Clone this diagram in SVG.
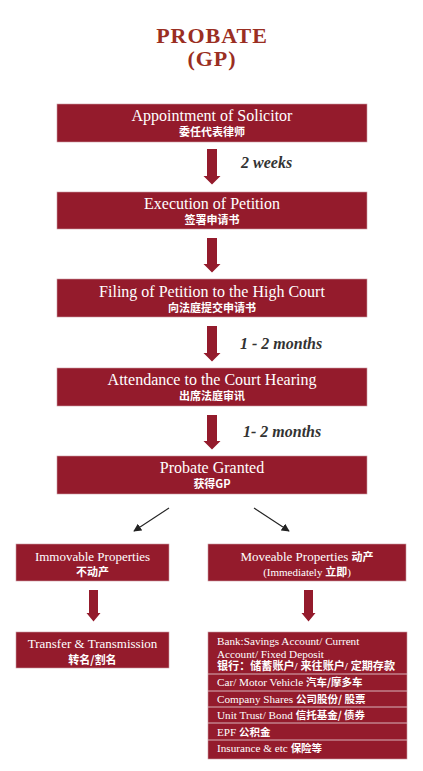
<svg xmlns="http://www.w3.org/2000/svg" width="423" height="771" viewBox="0 0 423 771">
<defs>
<style>
.box{fill:#941b2c;stroke:#c99aa2;stroke-width:0.6}
.arr{fill:#941b2c}
.t{font-family:"Liberation Serif","Noto Sans CJK SC",serif;fill:#ffffff;text-anchor:middle}
.m{font-size:16px}
.cn{font-family:"Noto Sans CJK SC",sans-serif;font-weight:bold;font-size:11px;fill:#ffffff;text-anchor:middle}
.s{font-size:13px}
.l{font-family:"Liberation Serif","Noto Sans CJK SC",serif;fill:#ffffff;font-size:11.2px}
.dur{font-family:"Liberation Serif",serif;font-weight:bold;font-style:italic;font-size:16px;fill:#333333}
.title{font-family:"Liberation Serif",serif;font-weight:bold;font-size:22px;letter-spacing:1px;fill:#9a2e22;text-anchor:middle}
.sep{stroke:#d9b3b9;stroke-width:1}
.thin{stroke:#222222;stroke-width:1.1;fill:none;marker-end:url(#ah)}
</style>
<marker id="ah" viewBox="0 0 10 10" refX="9" refY="5" markerWidth="8" markerHeight="8" orient="auto" markerUnits="userSpaceOnUse">
<path d="M0,0 L10,5 L0,10 z" fill="#222222"/>
</marker>
</defs>
<rect width="423" height="771" fill="#ffffff"/>
<g id="title">
<text class="title" x="212" y="43">PROBATE</text>
<text class="title" x="212" y="66">(GP)</text>
</g>
<g id="n1">
<rect class="box" x="57" y="104" width="310" height="38"/>
<text class="t m" x="212" y="120.5">Appointment of Solicitor</text>
<text class="cn" x="212" y="135.5">委任代表律师</text>
</g>
<g id="n2">
<rect class="box" x="57" y="192" width="310" height="37"/>
<text class="t m" x="212" y="208.5">Execution of Petition</text>
<text class="cn" x="212" y="223.5">签署申请书</text>
</g>
<g id="n3">
<rect class="box" x="57" y="279" width="310" height="38"/>
<text class="t m" x="212" y="296.5">Filing of Petition to the High Court</text>
<text class="cn" x="212" y="311.5">向法庭提交申请书</text>
</g>
<g id="n4">
<rect class="box" x="57" y="368" width="310" height="38"/>
<text class="t m" x="212" y="384.5">Attendance to the Court Hearing</text>
<text class="cn" x="212" y="399.5">出席法庭审讯</text>
</g>
<g id="n5">
<rect class="box" x="57" y="456" width="310" height="38"/>
<text class="t m" x="212" y="473">Probate Granted</text>
<text class="cn" x="212" y="488">获得GP</text>
</g>
<g id="n6">
<rect class="box" x="16" y="544" width="153" height="37"/>
<text class="t s" x="92.5" y="560.5">Immovable Properties</text>
<text class="cn" x="92.5" y="576">不动产</text>
</g>
<g id="n7">
<rect class="box" x="208" y="544" width="198" height="37"/>
<text class="t s" x="307" y="560.5">Moveable Properties <tspan font-family="Noto Sans CJK SC" font-weight="bold" font-size="11">动产</tspan></text>
<text class="t" x="307" y="576" font-size="11">(Immediately <tspan font-family="Noto Sans CJK SC" font-weight="bold">立即</tspan>)</text>
</g>
<g id="n8">
<rect class="box" x="16" y="632" width="153" height="36"/>
<text class="t s" x="92.5" y="648">Transfer &amp; Transmission</text>
<text class="cn" x="92.5" y="663.5">转名/割名</text>
</g>
<g id="n9">
<rect class="box" x="208" y="632" width="199" height="127"/>
<line class="sep" x1="208" y1="674" x2="407" y2="674"/>
<line class="sep" x1="208" y1="691" x2="407" y2="691"/>
<line class="sep" x1="208" y1="707" x2="407" y2="707"/>
<line class="sep" x1="208" y1="723" x2="407" y2="723"/>
<line class="sep" x1="208" y1="740" x2="407" y2="740"/>
<text class="l" x="217" y="645">Bank:Savings Account/ Current</text>
<text class="l" x="217" y="657.5">Account/ Fixed Deposit</text>
<text class="l" x="217" y="670" font-family="Noto Sans CJK SC" font-weight="bold" font-size="10" textLength="178" lengthAdjust="spacingAndGlyphs">银行：储蓄账户/ 来往账户/ 定期存款</text>
<text class="l" x="217" y="686">Car/ Motor Vehicle <tspan font-family="Noto Sans CJK SC" font-weight="bold" font-size="10.5">汽车/摩多车</tspan></text>
<text class="l" x="217" y="703">Company Shares <tspan font-family="Noto Sans CJK SC" font-weight="bold" font-size="10.5">公司股份/ 股票</tspan></text>
<text class="l" x="217" y="719">Unit Trust/ Bond <tspan font-family="Noto Sans CJK SC" font-weight="bold" font-size="10.5">信托基金/ 债券</tspan></text>
<text class="l" x="217" y="736">EPF <tspan font-family="Noto Sans CJK SC" font-weight="bold" font-size="10.5">公积金</tspan></text>
<text class="l" x="217" y="752">Insurance &amp; etc <tspan font-family="Noto Sans CJK SC" font-weight="bold" font-size="10.5">保险等</tspan></text>
</g>
<g id="connectors">
<path class="arr" d="M207,149 H217 V176 H220.5 L212,184.5 L203.5,176 H207 Z"/>
<path class="arr" d="M207,238 H217 V264 H220.5 L212,272.5 L203.5,264 H207 Z"/>
<path class="arr" d="M207,326 H217 V353 H220.5 L212,361.5 L203.5,353 H207 Z"/>
<path class="arr" d="M207,415 H217 V441 H220.5 L212,449.5 L203.5,441 H207 Z"/>
<path class="arr" d="M89,590 H98 V613 H100.5 L93.5,621.5 L86.5,613 H89 Z"/>
<path class="arr" d="M304,590 H313 V613 H315.5 L308.5,621.5 L301.5,613 H304 Z"/>
<line class="thin" x1="169" y1="508" x2="134" y2="531"/>
<line class="thin" x1="254" y1="508" x2="289" y2="531"/>
<text class="dur" x="241" y="168">2 weeks</text>
<text class="dur" x="240" y="349">1 - 2 months</text>
<text class="dur" x="243" y="437">1- 2 months</text>
</g>
</svg>
